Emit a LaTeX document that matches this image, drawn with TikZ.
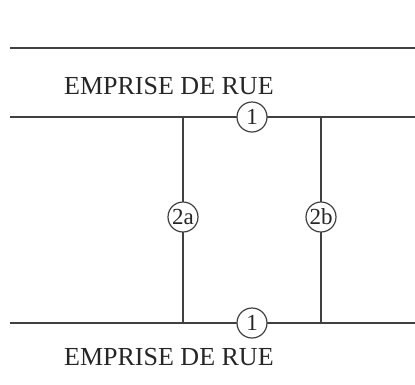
\documentclass[tikz,border=0pt]{standalone}
\usepackage{fontspec}
\setmainfont{Liberation Serif}
\begin{document}
\begin{tikzpicture}[x=1pt,y=-1pt,
  road/.style={draw=black!75,line width=1.4pt},
  lbl/.style={font=\fontsize{26}{26}\selectfont,text=black!85,inner sep=0pt},
  num/.style={circle,draw=black!75,line width=1.2pt,fill=white,minimum size=30pt,inner sep=0pt,font=\fontsize{23}{23}\selectfont,text=black!85}]
\useasboundingbox (0,0) rectangle (415,384);
\coordinate (t0) at (10,48); \coordinate (t1) at (415,48);
\coordinate (m0) at (10,117); \coordinate (m1) at (415,117);
\coordinate (b0) at (10,323); \coordinate (b1) at (415,323);
\coordinate (a0) at (183,117); \coordinate (a1) at (183,323);
\coordinate (c0) at (321,117); \coordinate (c1) at (321,323);
\draw[road] (t0) -- (t1);
\draw[road] (m0) -- (m1);
\draw[road] (b0) -- (b1);
\draw[road] (a0) -- (a1);
\draw[road] (c0) -- (c1);
\node[lbl,anchor=west] (e1) at (64,86) {EMPRISE DE RUE};
\node[lbl,anchor=west] (e2) at (64,357) {EMPRISE DE RUE};
\node[num] (n1) at (252,117) {1};
\node[num] (n2) at (252,323) {1};
\node[num] (n3) at (183,217) {2a};
\node[num] (n4) at (321,217) {2b};
\end{tikzpicture}
\end{document}
